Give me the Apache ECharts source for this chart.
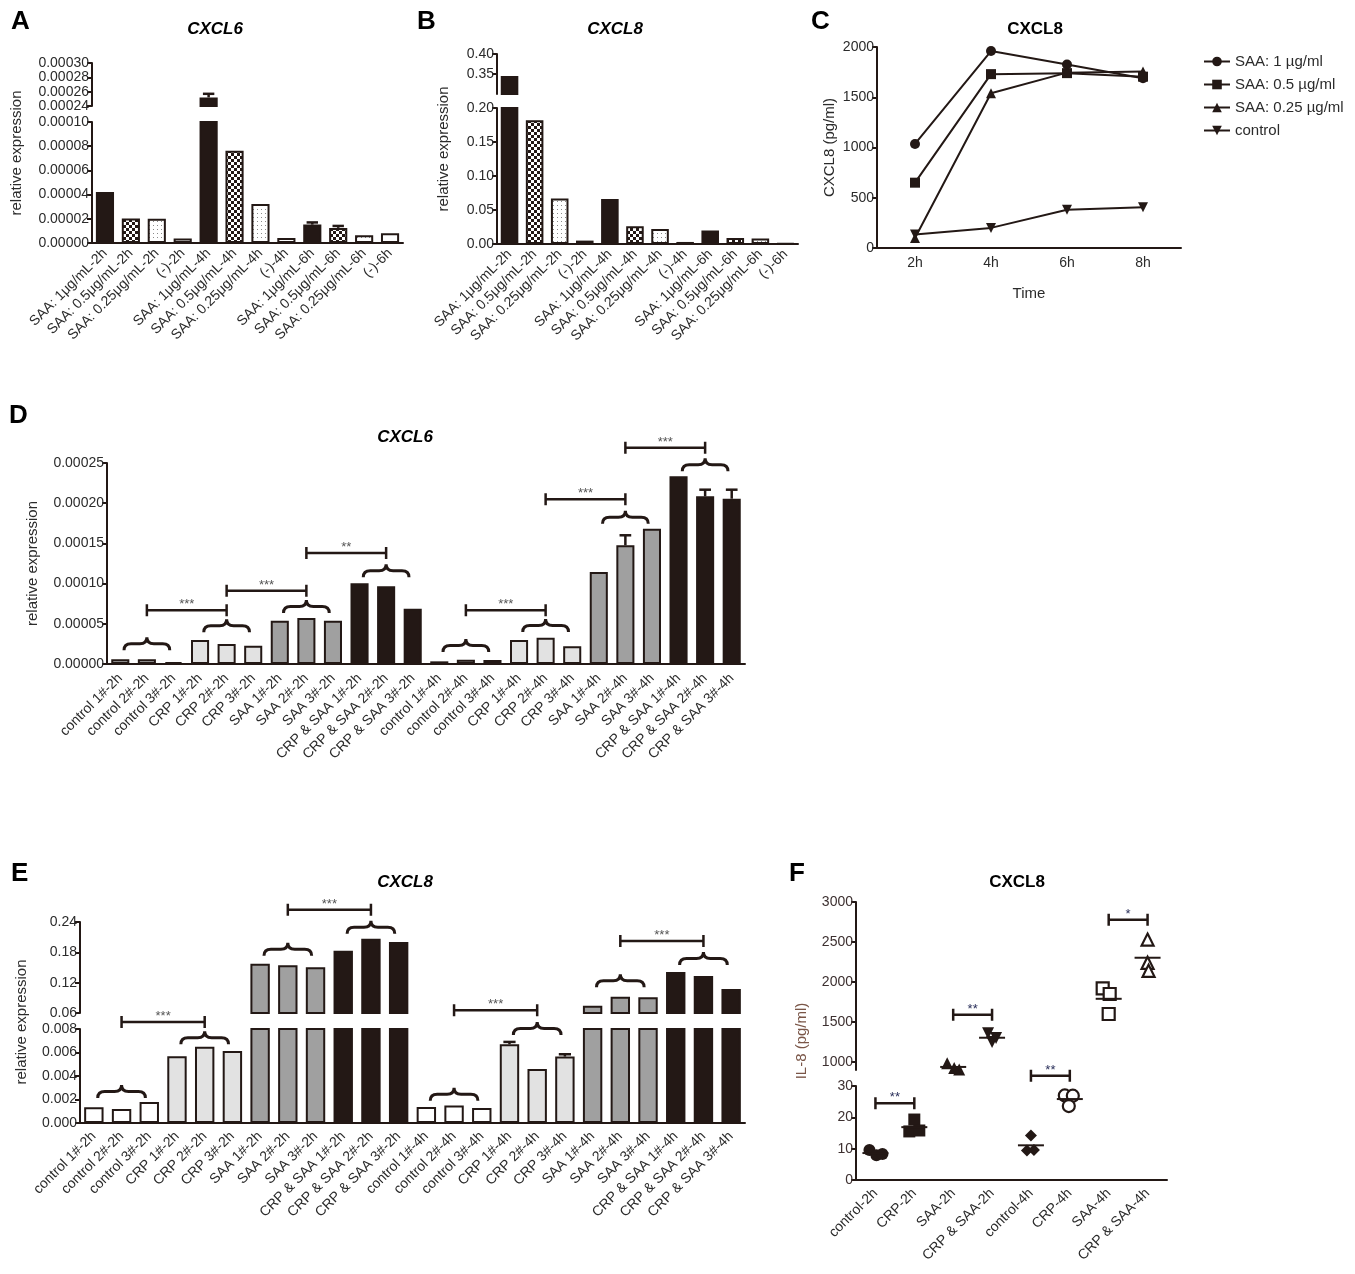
<!DOCTYPE html>
<html>
<head>
<meta charset="utf-8">
<script src="https://cdn.jsdelivr.net/npm/echarts@6/dist/echarts.min.js"></script>
<style>
  html, body { margin: 0; padding: 0; background: #fff; }
  #chart-container { width: 1355px; height: 1274px; }
</style>
</head>
<body>
<div id="chart-container"></div>
<script>
// ---- data ----
var catsAB = ["SAA: 1μg/mL-2h", "SAA: 0.5μg/mL-2h", "SAA: 0.25μg/mL-2h", "(-)-2h",
  "SAA: 1μg/mL-4h", "SAA: 0.5μg/mL-4h", "SAA: 0.25μg/mL-4h", "(-)-4h",
  "SAA: 1μg/mL-6h", "SAA: 0.5μg/mL-6h", "SAA: 0.25μg/mL-6h", "(-)-6h"];
var valsA = [0.0000422, 0.0000202, 0.0000200, 0.0000038, 0.000252, 0.0000762,
  0.0000323, 0.0000041, 0.0000152, 0.0000125, 0.0000064, 0.0000080];
var errA = [0, 0, 0, 0, 0.000005, 0, 0, 0, 0.0000018, 0.0000016, 0, 0];
var valsB = [0.345, 0.182, 0.067, 0.005, 0.066, 0.026, 0.022, 0.003, 0.020, 0.009, 0.008, 0.001];

var timesC = ["2h", "4h", "6h", "8h"];
var cSaa1 = [1035, 1960, 1825, 1690];
var cSaa05 = [650, 1730, 1740, 1705];
var cSaa025 = [100, 1540, 1745, 1755];
var cCtrl = [135, 200, 380, 405];

var catsDE = ["control 1#-2h", "control 2#-2h", "control 3#-2h", "CRP 1#-2h", "CRP 2#-2h", "CRP 3#-2h",
  "SAA 1#-2h", "SAA 2#-2h", "SAA 3#-2h", "CRP & SAA 1#-2h", "CRP & SAA 2#-2h", "CRP & SAA 3#-2h",
  "control 1#-4h", "control 2#-4h", "control 3#-4h", "CRP 1#-4h", "CRP 2#-4h", "CRP 3#-4h",
  "SAA 1#-4h", "SAA 2#-4h", "SAA 3#-4h", "CRP & SAA 1#-4h", "CRP & SAA 2#-4h", "CRP & SAA 3#-4h"];
var valsD = [0.0000060, 0.0000060, 0.0000022, 0.0000300, 0.0000249, 0.0000228,
  0.0000539, 0.0000572, 0.0000539, 0.0001003, 0.0000966, 0.0000688,
  0.0000033, 0.0000054, 0.0000050, 0.0000300, 0.0000328, 0.0000220,
  0.0001144, 0.0001476, 0.0001683, 0.0002334, 0.0002085, 0.0002056];
var errD = [0, 0, 0, 0, 0, 0, 0, 0, 0, 0, 0, 0, 0, 0, 0, 0, 0, 0,
  0, 0.0000125, 0, 0, 0.0000083, 0.0000112];
var valsE = [0.00133, 0.00119, 0.00178, 0.00568, 0.00650, 0.00613,
  0.1576, 0.1543, 0.1503, 0.1833, 0.2070, 0.2004,
  0.00136, 0.00150, 0.00128, 0.00670, 0.00460, 0.00565,
  0.0745, 0.0923, 0.0910, 0.1411, 0.1332, 0.1075];
var errE = [0, 0, 0, 0, 0, 0, 0, 0, 0, 0, 0, 0, 0, 0, 0, 0.0002, 0, 0.0002, 0, 0, 0, 0, 0, 0];

// significance: [from, to, y], braces: [first, last, y of tips]
var sigD = [[1, 4, 0.0000667], [4, 7, 0.0000912], [7, 10, 0.000138], [13, 16, 0.0000667], [16, 19, 0.000205], [19, 22, 0.000269]];
var sigDLabels = ["***", "***", "**", "***", "***", "***"];
var braceD = [[0, 2, 0.000017], [3, 5, 0.0000394], [6, 8, 0.0000634], [9, 11, 0.000108],
  [12, 14, 0.0000149], [15, 17, 0.0000398], [18, 20, 0.0001745], [21, 23, 0.0002396]];
var sigELow = [[1, 4, 0.0086], [13, 16, 0.0096]];
var sigEHigh = [[7, 10, 0.2644], [19, 22, 0.2024]];
var braceELow = [[0, 2, 0.00212], [3, 5, 0.0067], [12, 14, 0.0019], [15, 17, 0.0075]];
var braceEHigh = [[6, 8, 0.1734], [9, 11, 0.217], [18, 20, 0.1108], [21, 23, 0.155]];

var catsF = ["control-2h", "CRP-2h", "SAA-2h", "CRP & SAA-2h", "control-4h", "CRP-4h", "SAA-4h", "CRP & SAA-4h"];
var fControl2 = [9.6, 7.9, 8.3];
var fCrp2 = [19.3, 15.5, 15.8];
var fSaa2 = [985, 905, 925];
var fBoth2 = [1360, 1250, 1300];
var fControl4 = [14.2, 9.4, 9.6];
var fCrp4 = [27.0, 26.9, 23.6];
var fSaa4 = [1920, 1850, 1600];
var fBoth4 = [2530, 2240, 2140];
var sigFLow = [[0, 1, 24.5], [4, 5, 33.3]];
var sigFHigh = [[2, 3, 1592], [6, 7, 2779]];

// ---- helpers ----
var FONT = '"Liberation Sans", Arial, sans-serif';
var INK = "#231815";
var TXT = "#2b2b2b";

function makePattern(kind) {
  var c = document.createElement("canvas");
  var s = kind === "check" ? 6 : 4;
  c.width = s; c.height = s;
  var g = c.getContext("2d");
  g.fillStyle = "#fff"; g.fillRect(0, 0, s, s);
  if (kind === "check") {
    g.fillStyle = INK; g.fillRect(0, 0, 3, 3); g.fillRect(3, 3, 3, 3);
  } else {
    g.fillStyle = "#8a8a8a"; g.fillRect(1, 1, 1, 1);
  }
  return c;
}
var checker = makePattern("check");
var dots = makePattern("dot");

function doseFill(i) {
  var k = i % 4;
  if (k === 0) return INK;
  if (k === 1) return { image: checker, repeat: "repeat" };
  if (k === 2) return { image: dots, repeat: "repeat" };
  return "#fff";
}
function groupFillD(i) { return ["#b0b0b0", "#e2e2e2", "#a0a0a0", INK][Math.floor(i / 3) % 4]; }
function groupFillE(i) { return ["#ffffff", "#e2e2e2", "#a0a0a0", INK][Math.floor(i / 3) % 4]; }

function yAx(gi, o) {
  var a = {
    type: "value", gridIndex: gi, min: o.min, max: o.max,
    splitLine: { show: false },
    axisLine: { show: true, lineStyle: { color: INK, width: 2 } },
    axisTick: { show: true, length: 5, lineStyle: { color: INK, width: 2 } },
    axisLabel: { color: o.color || TXT, fontSize: 14, fontFamily: FONT, margin: 3,
      formatter: function (v) { return o.digits == null ? String(v) : v.toFixed(o.digits); } }
  };
  if (o.interval) a.interval = o.interval;
  if (o.custom) { a.axisLabel.customValues = o.custom; a.axisTick.customValues = o.custom; }
  if (o.name) {
    a.name = o.name; a.nameLocation = "middle"; a.nameGap = o.nameGap;
    a.nameTextStyle = { fontSize: 15, fontFamily: FONT, color: TXT };
  }
  return a;
}
function xAx(gi, cats, show, rotate, margin) {
  return {
    type: "category", gridIndex: gi, data: cats, show: show,
    axisLine: { lineStyle: { color: INK, width: 2 } },
    axisTick: { alignWithLabel: true, length: 6, lineStyle: { color: INK, width: 1.5 } },
    axisLabel: { rotate: rotate, interval: 0, fontSize: 14, color: TXT, fontFamily: FONT, margin: margin || 8 }
  };
}
function barSeries(gi, vals, fillFn, lo, width) {
  return {
    type: "bar", xAxisIndex: gi, yAxisIndex: gi, barWidth: width || "70%", silent: true,
    data: vals.map(function (v, i) {
      return { value: (lo != null && v <= lo) ? "-" : v, itemStyle: { color: fillFn(i) } };
    }),
    itemStyle: { borderColor: INK, borderWidth: 2 }
  };
}
function errSeries(gi, vals, errs, lo, hi) {
  var d = [];
  vals.forEach(function (v, i) { if (errs[i] > 0 && v >= lo && v <= hi) d.push([i, v, v + errs[i]]); });
  return {
    type: "custom", xAxisIndex: gi, yAxisIndex: gi, data: d, z: 5, silent: true,
    encode: { x: 0, y: [1, 2] },
    renderItem: function (p, api) {
      var b = api.coord([api.value(0), api.value(1)]);
      var t = api.coord([api.value(0), api.value(2)]);
      var w = api.size([1, 0])[0] * 0.22;
      return { type: "group", children: [
        { type: "line", shape: { x1: b[0], y1: b[1], x2: t[0], y2: t[1] }, style: { stroke: INK, lineWidth: 2.5 } },
        { type: "line", shape: { x1: t[0] - w, y1: t[1], x2: t[0] + w, y2: t[1] }, style: { stroke: INK, lineWidth: 2.5 } }
      ] };
    }
  };
}
function sigSeries(gi, list, labels, starColor) {
  return {
    type: "custom", xAxisIndex: gi, yAxisIndex: gi, data: list, z: 6, silent: true, clip: false,
    encode: { x: [0, 1], y: 2 },
    renderItem: function (p, api) {
      var a = api.coord([api.value(0), api.value(2)]);
      var b = api.coord([api.value(1), api.value(2)]);
      var d = "M" + a[0] + " " + (a[1] - 6) + " L" + a[0] + " " + (a[1] + 6) +
        " M" + a[0] + " " + a[1] + " L" + b[0] + " " + b[1] +
        " M" + b[0] + " " + (b[1] - 6) + " L" + b[0] + " " + (b[1] + 6);
      return { type: "group", children: [
        { type: "path", shape: { pathData: d }, style: { fill: "none", stroke: INK, lineWidth: 2.5 } },
        { type: "text", x: (a[0] + b[0]) / 2, y: a[1] + 1,
          style: { text: labels[p.dataIndex], fill: starColor || "#555", font: "13px " + FONT, align: "center", verticalAlign: "bottom" } }
      ] };
    }
  };
}
function braceSeries(gi, list) {
  return {
    type: "custom", xAxisIndex: gi, yAxisIndex: gi, data: list, z: 6, silent: true, clip: false,
    encode: { x: [0, 1], y: 2 },
    renderItem: function (p, api) {
      var c1 = api.coord([api.value(0), api.value(2)]);
      var c2 = api.coord([api.value(1), api.value(2)]);
      var band = (c2[0] - c1[0]) / 2;
      var xm = (c1[0] + c2[0]) / 2, half = band * 0.86;
      var xl = xm - half, xr = xm + half;
      var h = 13, r = 7, yb = c1[1], ym = yb - h / 2, yt = yb - h;
      var d = "M" + xl + " " + yb + " Q" + xl + " " + ym + " " + (xl + r) + " " + ym +
        " L" + (xm - r) + " " + ym + " Q" + xm + " " + ym + " " + xm + " " + yt +
        " Q" + xm + " " + ym + " " + (xm + r) + " " + ym +
        " L" + (xr - r) + " " + ym + " Q" + xr + " " + ym + " " + xr + " " + yb;
      return { type: "path", shape: { pathData: d }, style: { fill: "none", stroke: INK, lineWidth: 3 } };
    }
  };
}
function scatterF(gi, ci, vals, symbol, open, offsets, rot) {
  return {
    type: "scatter", xAxisIndex: gi, yAxisIndex: gi, silent: true, z: 4,
    symbol: symbol, symbolSize: 12, symbolRotate: rot || 0,
    itemStyle: open ? { color: "#fff", borderColor: INK, borderWidth: 2.2, opacity: 1 } : { color: INK, opacity: 1 },
    data: vals.map(function (v, k) { return { value: [ci, v], symbolOffset: [offsets[k], 0] }; })
  };
}
function mean(a) { return a.reduce(function (s, v) { return s + v; }, 0) / a.length; }

var dom = document.getElementById("chart-container");
var myChart = echarts.init(dom, null, { renderer: "canvas" });

var titleFont = { fontFamily: FONT, color: "#000", fontWeight: "bold" };
function letter(t, l, top) { return { text: t, left: l, top: top, textStyle: Object.assign({ fontSize: 26 }, titleFont) }; }
function head(t, l, top, italic) {
  return { text: t, left: l, top: top, textAlign: "center",
    textStyle: Object.assign({ fontSize: 17, fontStyle: italic ? "italic" : "normal" }, titleFont) };
}
function yName(t, x, y, color) {
  return { type: "text", x: x, y: y, rotation: Math.PI / 2,
    style: { text: t, font: "15px " + FONT, fill: color || TXT, align: "center", verticalAlign: "middle" } };
}

var meanLow = [[0, mean(fControl2)], [1, mean(fCrp2)], [4, mean(fControl4)], [5, mean(fCrp4)]];
var meanHigh = [[2, mean(fSaa2)], [3, mean(fBoth2)], [6, mean(fSaa4)], [7, mean(fBoth4)]];

var option = {
  animation: false,
  backgroundColor: "#fff",
  title: [
    letter("A", 6, 4), letter("B", 412, 4), letter("C", 806, 4),
    letter("D", 4, 398), letter("E", 6, 856), letter("F", 784, 856),
    head("CXCL6", 210, 16, true), head("CXCL8", 610, 16, true), head("CXCL8", 1030, 16, false),
    head("CXCL6", 400, 424, true), head("CXCL8", 400, 869, true), head("CXCL8", 1012, 869, false)
  ],
  graphic: [
    yName("relative expression", 17, 153),
    yName("relative expression", 444, 149),
    yName("relative expression", 22, 1022),
    yName("IL-8 (pg/ml)", 802, 1041, "#7a5648")
  ],
  legend: {
    data: ["SAA: 1 µg/ml", "SAA: 0.5 µg/ml", "SAA: 0.25 µg/ml", "control"],
    orient: "vertical", left: 1198, top: 49, itemWidth: 26, itemHeight: 12, itemGap: 8,
    textStyle: { fontSize: 15, fontFamily: FONT, color: TXT }
  },
  grid: [
    { left: 92, top: 122, width: 311, height: 121 },
    { left: 92, top: 63, width: 311, height: 43 },
    { left: 497, top: 108, width: 301, height: 136 },
    { left: 497, top: 54, width: 301, height: 40 },
    { left: 877, top: 47, width: 304, height: 201 },
    { left: 107, top: 463, width: 638, height: 201 },
    { left: 80, top: 1029, width: 665, height: 94 },
    { left: 80, top: 922, width: 665, height: 91 },
    { left: 856, top: 1086, width: 311, height: 94 },
    { left: 856, top: 902, width: 311, height: 168 }
  ],
  xAxis: [
    xAx(0, catsAB, true, 45), xAx(1, catsAB, false, 45),
    xAx(2, catsAB, true, 45), xAx(3, catsAB, false, 45),
    Object.assign(xAx(4, timesC, true, 0, 8), { name: "Time", nameLocation: "middle", nameGap: 38,
      nameTextStyle: { fontSize: 15, fontFamily: FONT, color: TXT } }),
    xAx(5, catsDE, true, 45, 12),
    xAx(6, catsDE, true, 45, 11), xAx(7, catsDE, false, 45),
    xAx(8, catsF, true, 45, 11), xAx(9, catsF, false, 45)
  ],
  yAxis: [
    yAx(0, { min: 0, max: 0.0001, interval: 0.00002, digits: 5 }),
    yAx(1, { min: 0.00024, max: 0.0003, interval: 0.00002, digits: 5 }),
    yAx(2, { min: 0, max: 0.2, interval: 0.05, digits: 2 }),
    yAx(3, { min: 0.3, max: 0.4, custom: [0.35, 0.4], digits: 2 }),
    yAx(4, { min: 0, max: 2000, interval: 500, name: "CXCL8 (pg/ml)", nameGap: 40 }),
    yAx(5, { min: 0, max: 0.00025, interval: 0.00005, digits: 5, name: "relative expression", nameGap: 67 }),
    yAx(6, { min: 0, max: 0.008, interval: 0.002, digits: 3 }),
    yAx(7, { min: 0.06, max: 0.24, interval: 0.06, digits: 2 }),
    yAx(8, { min: 0, max: 30, interval: 10, color: "#3d3030" }),
    yAx(9, { min: 900, max: 3000, custom: [1000, 1500, 2000, 2500, 3000], color: "#3d3030" })
  ],
  series: [
    // A
    barSeries(0, valsA, doseFill), barSeries(1, valsA, doseFill, 0.00024),
    errSeries(0, valsA, errA, 0, 0.0001), errSeries(1, valsA, errA, 0.00024, 0.0003),
    // B
    barSeries(2, valsB, doseFill), barSeries(3, valsB, doseFill, 0.3),
    // C
    { name: "SAA: 1 µg/ml", type: "line", xAxisIndex: 4, yAxisIndex: 4, data: cSaa1, symbol: "circle", symbolSize: 10,
      lineStyle: { color: INK, width: 2 }, itemStyle: { color: INK } },
    { name: "SAA: 0.5 µg/ml", type: "line", xAxisIndex: 4, yAxisIndex: 4, data: cSaa05, symbol: "rect", symbolSize: 10,
      lineStyle: { color: INK, width: 2 }, itemStyle: { color: INK } },
    { name: "SAA: 0.25 µg/ml", type: "line", xAxisIndex: 4, yAxisIndex: 4, data: cSaa025, symbol: "triangle", symbolSize: 10,
      lineStyle: { color: INK, width: 2 }, itemStyle: { color: INK } },
    { name: "control", type: "line", xAxisIndex: 4, yAxisIndex: 4, data: cCtrl, symbol: "triangle", symbolRotate: 180, symbolSize: 10,
      lineStyle: { color: INK, width: 2 }, itemStyle: { color: INK } },
    // D
    barSeries(5, valsD, groupFillD, null, "68%"),
    errSeries(5, valsD, errD, 0, 0.00025),
    braceSeries(5, braceD), sigSeries(5, sigD, sigDLabels),
    // E
    barSeries(6, valsE, groupFillE), barSeries(7, valsE, groupFillE, 0.06),
    errSeries(6, valsE, errE, 0, 0.008),
    braceSeries(6, braceELow), braceSeries(7, braceEHigh),
    sigSeries(6, sigELow, ["***", "***"]), sigSeries(7, sigEHigh, ["***", "***"]),
    // F
    scatterF(8, 0, fControl2, "circle", false, [-6, 1, 7]),
    scatterF(8, 1, fCrp2, "rect", false, [0, -5, 5]),
    scatterF(9, 2, fSaa2, "triangle", false, [-6, 6, 1]),
    scatterF(9, 3, fBoth2, "triangle", false, [-4, 0, 4], 180),
    scatterF(8, 4, fControl4, "diamond", false, [0, -4, 3]),
    scatterF(8, 5, fCrp4, "circle", true, [-5, 3, -1]),
    scatterF(9, 6, fSaa4, "rect", true, [-6, 1, 0]),
    scatterF(9, 7, fBoth4, "triangle", true, [0, 0, 1]),
    { type: "scatter", xAxisIndex: 8, yAxisIndex: 8, data: meanLow, symbol: "rect", symbolSize: [26, 2],
      itemStyle: { color: INK, opacity: 1 }, silent: true, z: 5 },
    { type: "scatter", xAxisIndex: 9, yAxisIndex: 9, data: meanHigh, symbol: "rect", symbolSize: [26, 2],
      itemStyle: { color: INK, opacity: 1 }, silent: true, z: 5 },
    sigSeries(8, sigFLow, ["**", "**"], "#2a2f5a"),
    sigSeries(9, sigFHigh, ["**", "*"], "#2a2f5a")
  ]
};

myChart.setOption(option);
window.addEventListener("resize", myChart.resize);
</script>
</body>
</html>
